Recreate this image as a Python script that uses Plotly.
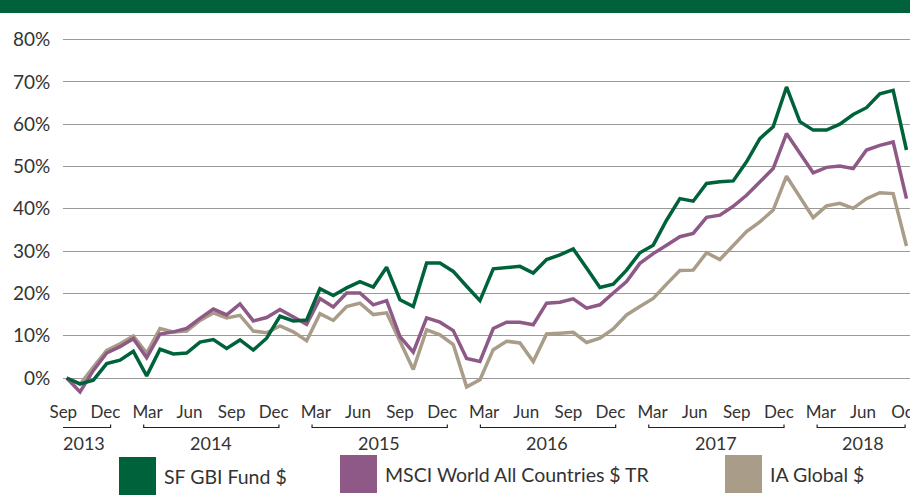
import plotly.graph_objects as go
import pandas as pd

# ---------------- data (cumulative performance, %) ----------------
months = list(pd.date_range("2013-07-01", "2018-10-01", freq="MS").strftime("%b %Y"))

sf_gbi = [0, -1.4, -0.5, 3.4, 4.2, 6.3, 0.5, 6.8, 5.7, 5.9,
          8.5, 9.1, 7.0, 9.0, 6.6, 9.4, 14.6, 13.5, 13.7, 21.1,
          19.5, 21.3, 22.8, 21.5, 26.2, 18.5, 16.9, 27.2, 27.2, 25.2,
          21.7, 18.3, 25.8, 26.2, 26.4, 24.8, 28.0, 29.1, 30.5, 26.0,
          21.4, 22.2, 25.5, 29.6, 31.4, 37.3, 42.4, 41.8, 46.0, 46.4,
          46.6, 51.1, 56.6, 59.4, 68.8, 60.6, 58.6, 58.6, 60.0, 62.3,
          63.9, 67.2, 68.0, 53.9]

msci_acwi = [0, -3.3, 1.8, 5.9, 7.4, 9.3, 4.8, 10.4, 10.9, 11.7,
             14.1, 16.3, 14.9, 17.5, 13.5, 14.3, 16.2, 14.5, 12.7, 18.8,
             16.8, 20.1, 20.1, 17.3, 18.3, 9.8, 6.1, 14.2, 13.2, 11.2,
             4.6, 3.9, 11.7, 13.2, 13.2, 12.6, 17.7, 17.9, 18.7, 16.5,
             17.3, 20.1, 22.8, 27.1, 29.4, 31.4, 33.4, 34.2, 38.0, 38.5,
             40.6, 43.2, 46.4, 49.5, 57.8, 53.1, 48.5, 49.8, 50.1, 49.5,
             53.9, 55.0, 55.8, 42.4]

ia_global = [0, -1.5, 2.6, 6.5, 8.1, 9.9, 5.9, 11.7, 10.9, 11.1,
             13.6, 15.4, 14.2, 14.8, 11.1, 10.7, 12.3, 10.9, 8.8, 15.2,
             13.6, 16.9, 17.7, 15.0, 15.4, 8.7, 2.0, 11.4, 10.2, 7.9,
             -2.1, -0.4, 6.7, 8.7, 8.3, 3.9, 10.4, 10.6, 10.8, 8.4,
             9.4, 11.6, 14.9, 16.9, 18.8, 22.2, 25.4, 25.5, 29.6, 28.0,
             31.4, 34.6, 36.9, 39.7, 47.7, 42.8, 37.9, 40.7, 41.3, 40.1,
             42.4, 43.8, 43.6, 31.2]

series_names = ["SF GBI Fund $", "MSCI World All Countries $ TR", "IA Global $"]

tick_labels = ["Sep", "Dec",
               "Mar", "Jun", "Sep", "Dec",
               "Mar", "Jun", "Sep", "Dec",
               "Mar", "Jun", "Sep", "Dec",
               "Mar", "Jun", "Sep", "Dec",
               "Mar", "Jun", "Oct"]
years = ["2013", "2014", "2015", "2016", "2017", "2018"]
year_tick_groups = [(0, 1), (2, 5), (6, 9), (10, 13), (14, 17), (18, 20)]

y_ticks = [0, 10, 20, 30, 40, 50, 60, 70, 80]
y_tick_text = [f"{v}%" for v in y_ticks]

# ---------------- styling ----------------
GREEN = "#00623A"
PURPLE = "#8E5986"
TAUPE = "#A99C88"
TEXT = "#333333"
FONT = "Lato"

W_FIG, H_FIG = 910, 496
L, T, R, B = 63, 36, 0, 101
PW, PH = W_FIG - L - R, H_FIG - T - B
Y0_PX, PX_PER_PCT = 378.0, 4.23


def px(x):
    return (x - L) / PW


def py(y):
    return (T + PH - y) / PH


label_pos = [3 * i for i in range(len(tick_labels))]

fig = go.Figure()
for vals, name, col in [(ia_global, series_names[2], TAUPE),
                        (msci_acwi, series_names[1], PURPLE),
                        (sf_gbi, series_names[0], GREEN)]:
    fig.add_trace(go.Scatter(x=months, y=vals, name=name, mode="lines",
                             line=dict(color=col, width=3.5),
                             showlegend=False))

# carrier trace for the label axis
fig.add_trace(go.Scatter(x=label_pos, y=[None] * len(label_pos), xaxis="x2",
                         mode="lines", showlegend=False, hoverinfo="skip"))

shapes = []
annotations = []

# top green band
shapes.append(dict(type="rect", xref="paper", yref="paper",
                   x0=px(0), x1=px(W_FIG), y0=py(13), y1=py(0),
                   fillcolor=GREEN, line=dict(width=0), layer="above"))

# year brackets
yb, yt = py(427.5), py(424.5)
for yr, (a, b) in zip(years, year_tick_groups):
    x0 = label_pos[a] - 0.27
    x1 = min(label_pos[b] + 0.37, label_pos[-1])
    shapes.append(dict(type="path", xref="x2", yref="paper",
                       path=f"M {x0},{yt} L {x0},{yb} L {x1},{yb} L {x1},{yt}",
                       line=dict(color="#222222", width=1.2)))
    annotations.append(dict(text=yr, xref="x2", yref="paper",
                            x=(label_pos[a] + label_pos[b]) / 2, y=py(443),
                            xanchor="center", yanchor="middle", showarrow=False,
                            font=dict(family=FONT, size=18, color=TEXT)))

# custom legend (large square swatches)
legend_items = [(series_names[0], GREEN, 119, 457, 162, 476),
                (series_names[1], PURPLE, 340, 455, 383, 474),
                (series_names[2], TAUPE, 725, 455, 768, 474)]
for name, col, sx, sy, tx, ty in legend_items:
    shapes.append(dict(type="rect", xref="paper", yref="paper",
                       x0=px(sx), x1=px(sx + 37), y0=py(sy + 38), y1=py(sy),
                       fillcolor=col, line=dict(width=0)))
    annotations.append(dict(text=name, xref="paper", yref="paper",
                            x=px(tx), y=py(ty), xanchor="left", yanchor="middle",
                            showarrow=False,
                            font=dict(family=FONT, size=19.5, color=TEXT)))

fig.update_layout(
    template="none",
    width=W_FIG, height=H_FIG,
    margin=dict(l=L, r=R, t=T, b=B),
    paper_bgcolor="white", plot_bgcolor="white",
    font=dict(family=FONT, color=TEXT),
    showlegend=False,
    xaxis=dict(type="category", range=[(L - 66.7) / 13.33, (W_FIG - 66.7) / 13.33],
               showticklabels=False, showgrid=False, zeroline=False,
               showline=False, ticks="", automargin=False, fixedrange=True),
    xaxis2=dict(overlaying="x", side="bottom", anchor="y",
                range=[(L - 63.3) / 14.03, (W_FIG - 63.3) / 14.03],
                tickmode="array", tickvals=label_pos, ticktext=tick_labels,
                showgrid=False, zeroline=False, showline=False,
                ticks="outside", ticklen=2, tickcolor="rgba(0,0,0,0)",
                tickfont=dict(family=FONT, size=17, color=TEXT),
                ticklabeloverflow="allow",
                automargin=False),
    yaxis=dict(range=[-(T + PH - Y0_PX) / PX_PER_PCT, (Y0_PX - T) / PX_PER_PCT],
               tickmode="array", tickvals=y_ticks, ticktext=y_tick_text,
               showgrid=True, gridcolor="#9A9A9A", gridwidth=1.4,
               zeroline=False, showline=False,
               ticks="outside", ticklen=8, tickcolor="rgba(0,0,0,0)",
               tickfont=dict(family=FONT, size=19, color=TEXT),
               automargin=False),
    shapes=shapes,
    annotations=annotations,
)

fig.write_html("out.html",
               config={"displayModeBar": False},
               post_script="document.body.style.margin='0';"
                           "document.body.style.overflow='hidden';")
